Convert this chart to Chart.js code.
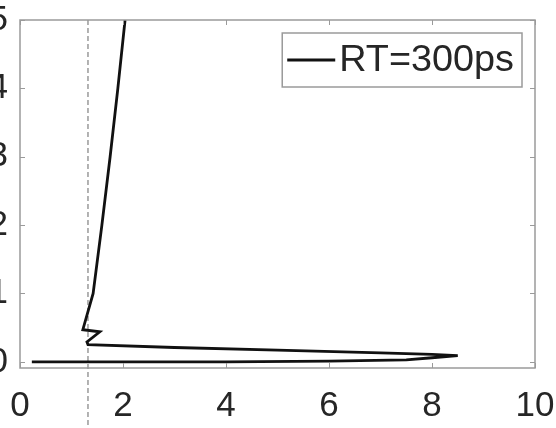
<!DOCTYPE html>
<html>
<head>
<meta charset="utf-8">
<script src="https://cdn.jsdelivr.net/npm/chart.js@4.4.0/dist/chart.umd.min.js"></script>
<style>
  html, body { margin: 0; padding: 0; background: #fff; overflow: hidden; }
  #wrap { position: relative; width: 556px; height: 428px; }
</style>
</head>
<body>
<div id="wrap"><canvas id="myChart" width="556" height="428"></canvas></div>
<script>
// RT=300ps trace, read point by point
var seriesLabel = 'RT=300ps';
var traceX = [2.04, 1.90, 1.75, 1.59, 1.42, 1.22, 1.55, 1.30, 1.32, 3.0, 5.0, 7.0, 8.0, 8.5, 8.0, 7.5, 6.0, 4.0, 0.23];
var traceY = [5.0, 4.0, 3.0, 2.0, 1.0, 0.47, 0.44, 0.29, 0.25, 0.21, 0.17, 0.13, 0.11, 0.09, 0.06, 0.03, 0.01, 0.0, 0.0];
var xTicks = [0, 2, 4, 6, 8, 10];
var yTicks = [0, 1, 2, 3, 4, 5];
var markerX = 1.32;   // dashed vertical reference

var fontFamily = '"Liberation Sans", Arial, Helvetica, sans-serif';
var textColor = '#262626';
var frameColor = '#9a9a9a';

// matlab-style box with inward tick marks on all four sides
var framePlugin = {
    id: 'frame',
    afterDatasetsDraw: function(chart) {
        var ctx = chart.ctx, a = chart.chartArea;
        var sx = chart.scales.x, sy = chart.scales.y;
        var tl = 5;
        ctx.save();
        ctx.strokeStyle = frameColor;
        ctx.lineWidth = 1.5;
        ctx.strokeRect(a.left, a.top, a.right - a.left, a.bottom - a.top);
        ctx.lineWidth = 1;
        ctx.beginPath();
        xTicks.forEach(function(v) {
            var px = Math.round(sx.getPixelForValue(v)) + 0.5;
            ctx.moveTo(px, a.bottom); ctx.lineTo(px, a.bottom - tl);
            ctx.moveTo(px, a.top); ctx.lineTo(px, a.top + tl);
        });
        yTicks.forEach(function(v) {
            var py = Math.round(sy.getPixelForValue(v)) + 0.5;
            ctx.moveTo(a.left, py); ctx.lineTo(a.left + tl, py);
            ctx.moveTo(a.right, py); ctx.lineTo(a.right - tl, py);
        });
        ctx.stroke();
        ctx.restore();
    }
};

// dashed vertical line, runs from the top of the box down past the axis labels
var markerPlugin = {
    id: 'marker',
    beforeDatasetsDraw: function(chart) {
        var ctx = chart.ctx;
        var px = chart.scales.x.getPixelForValue(markerX);
        ctx.save();
        ctx.strokeStyle = '#8a8a8a';
        ctx.lineWidth = 1.3;
        ctx.setLineDash([5, 3]);
        ctx.beginPath();
        ctx.moveTo(px, chart.chartArea.top);
        ctx.lineTo(px, chart.height);
        ctx.stroke();
        ctx.restore();
    }
};

// boxed legend in the upper right corner
var legendBoxPlugin = {
    id: 'legendBox',
    afterDraw: function(chart) {
        var ctx = chart.ctx, a = chart.chartArea;
        var ds = chart.data.datasets[0];
        var stretch = 1.05;   // legend text is set a little wide
        ctx.save();
        ctx.font = '36px ' + fontFamily;
        var tw = ctx.measureText(ds.label).width * stretch;
        var w = 57 + tw + 8, h = 54;
        var right = a.right - 13, top = a.top + 13;
        var left = right - w;
        ctx.fillStyle = '#fff';
        ctx.fillRect(left, top, w, h);
        ctx.strokeStyle = frameColor;
        ctx.lineWidth = 1.5;
        ctx.strokeRect(left, top, w, h);
        ctx.strokeStyle = ds.borderColor;
        ctx.lineWidth = ds.borderWidth;
        ctx.beginPath();
        ctx.moveTo(left + 5, top + h / 2);
        ctx.lineTo(left + 53, top + h / 2);
        ctx.stroke();
        ctx.fillStyle = textColor;
        ctx.textBaseline = 'middle';
        ctx.translate(left + 57, top + h / 2 + 1);
        ctx.scale(stretch, 1);
        ctx.fillText(ds.label, 0, 0);
        ctx.restore();
    }
};

var ctx = document.getElementById('myChart').getContext('2d');
var chart = new Chart(ctx, {
    type: 'scatter',
    data: {
        datasets: [{
            label: seriesLabel,
            data: traceX.map(function(x, i) { return { x: x, y: traceY[i] }; }),
            showLine: true,
            borderColor: '#111111',
            borderWidth: 2.8,
            pointRadius: 0,
            tension: 0,
            fill: false
        }]
    },
    options: {
        responsive: false,
        animation: false,
        devicePixelRatio: 1,
        layout: { padding: { top: 20, right: 21, left: 0, bottom: 0 } },
        plugins: {
            legend: { display: false },
            tooltip: { enabled: false }
        },
        scales: {
            x: {
                type: 'linear',
                min: 0,
                max: 10,
                afterBuildTicks: function(s) { s.ticks = xTicks.map(function(v) { return { value: v }; }); },
                afterFit: function(s) {
                    s.height = 60;
                    s.paddingLeft = 0; s.paddingRight = 0;
                },
                grid: { display: false, drawTicks: false },
                border: { display: false },
                ticks: {
                    color: textColor,
                    padding: 17,
                    maxRotation: 0,
                    font: { family: fontFamily, size: 35 }
                }
            },
            y: {
                type: 'linear',
                min: -0.09,
                max: 5,
                afterBuildTicks: function(s) { s.ticks = yTicks.map(function(v) { return { value: v }; }); },
                afterFit: function(s) {
                    s.width = 20;
                    s.paddingTop = 0; s.paddingBottom = 0;
                },
                grid: { display: false, drawTicks: false },
                border: { display: false },
                ticks: {
                    color: textColor,
                    padding: 12,
                    font: { family: fontFamily, size: 35 }
                }
            }
        }
    },
    plugins: [markerPlugin, framePlugin, legendBoxPlugin]
});
</script>
</body>
</html>
